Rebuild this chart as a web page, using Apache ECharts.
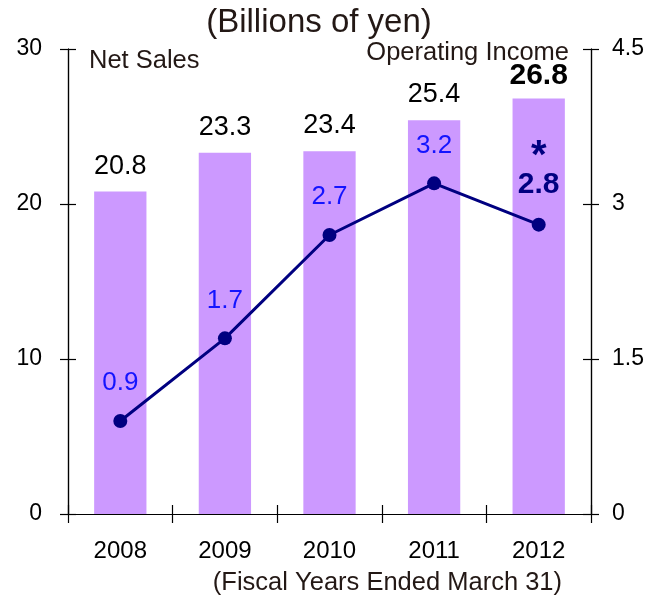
<!DOCTYPE html>
<html>
<head>
<meta charset="utf-8">
<script src="https://cdn.jsdelivr.net/npm/echarts@6/dist/echarts.min.js"></script>
<style>
  html, body { margin: 0; padding: 0; background: #fff; }
  #chart { width: 651px; height: 597px; }
</style>
</head>
<body>
<div id="chart"></div>
<script>
// Fiscal years (ended March 31)
const years = ['2008', '2009', '2010', '2011', '2012'];
// Net sales, billions of yen (left axis)
const netSales = [20.8, 23.3, 23.4, 25.4, 26.8];
// Operating income, billions of yen (right axis)
const operatingIncome = [0.9, 1.7, 2.7, 3.2, 2.8];
// Axis ticks
const salesTicks = [0, 10, 20, 30];
const incomeTicks = [0, 1.5, 3, 4.5];

const FONT = 'Liberation Sans, Arial, sans-serif';
const TEXT = '#231815';

const chart = echarts.init(document.getElementById('chart'), null, { renderer: 'canvas' });

const grid = { left: 68, right: 60, top: 49, bottom: 83 };
const lastIdx = years.length - 1;

// Ticks cross the axis line, so each axis is drawn twice: once with
// outward ticks and labels, once with inward ticks only.
function yAxisBase(pos, ticks, showLabel, inside) {
  return {
    type: 'value',
    position: pos,
    min: ticks[0],
    max: ticks[ticks.length - 1],
    interval: ticks[1] - ticks[0],
    splitLine: { show: false },
    axisLine: { show: true, lineStyle: { color: '#000', width: 1.2 } },
    axisTick: { show: true, inside: inside, length: 8, lineStyle: { color: '#000', width: 1.2 } },
    axisLabel: {
      show: showLabel,
      margin: pos === 'left' ? 26 : 21,
      color: '#000',
      fontSize: 23,
      fontFamily: FONT,
      formatter: v => String(v)
    }
  };
}

function xAxisBase(inside, showLabel) {
  return {
    type: 'category',
    data: years,
    position: 'bottom',
    boundaryGap: true,
    axisLine: { show: true, lineStyle: { color: '#000', width: 1.2 } },
    axisTick: { show: true, inside: inside, length: 9, lineStyle: { color: '#000', width: 1.2 } },
    axisLabel: { show: showLabel, margin: 25, color: '#000', fontSize: 24, fontFamily: FONT },
    splitLine: { show: false }
  };
}

const barData = netSales.map((v, i) => i === lastIdx
  ? { value: v, label: { fontWeight: 'bold', fontSize: 30, distance: 8 } }
  : v);

const lineData = operatingIncome.map((v, i) => i === lastIdx
  ? {
      value: v,
      label: {
        formatter: '{s|*}\n{b|' + v + '}',
        rich: {
          s: { fontSize: 40, fontWeight: 'bold', color: '#000080', fontFamily: FONT, lineHeight: 30, padding: [0, 0, -6, 0] },
          b: { fontSize: 30, fontWeight: 'bold', color: '#000080', fontFamily: FONT, lineHeight: 32 }
        },
        distance: 17
      }
    }
  : v);

chart.setOption({
  animation: false,
  backgroundColor: '#fff',
  title: [
    { text: '(Billions of yen)', left: 314, top: 1, textAlign: 'center',
      textStyle: { fontSize: 33, fontWeight: 'normal', color: TEXT, fontFamily: FONT } },
    { text: 'Net Sales', left: 84, top: 43,
      textStyle: { fontSize: 25.5, fontWeight: 'normal', color: TEXT, fontFamily: FONT } },
    { text: 'Operating Income', right: 77, top: 35,
      textStyle: { fontSize: 25.5, fontWeight: 'normal', color: TEXT, fontFamily: FONT } },
    { text: '(Fiscal Years Ended March 31)', right: 84, top: 565,
      textStyle: { fontSize: 25.5, fontWeight: 'normal', color: TEXT, fontFamily: FONT } }
  ],
  grid: grid,
  xAxis: [xAxisBase(false, true), xAxisBase(true, false)],
  yAxis: [
    yAxisBase('left', salesTicks, true, false),
    yAxisBase('right', incomeTicks, true, false),
    yAxisBase('left', salesTicks, false, true),
    yAxisBase('right', incomeTicks, false, true)
  ],
  series: [
    {
      name: 'Net Sales',
      type: 'bar',
      xAxisIndex: 0,
      yAxisIndex: 0,
      data: barData,
      barWidth: '50%',
      itemStyle: { color: '#cc99ff' },
      label: {
        show: true,
        position: 'top',
        distance: 12,
        color: '#000',
        fontSize: 27,
        fontFamily: FONT
      },
      z: 1
    },
    {
      name: 'Operating Income',
      type: 'line',
      xAxisIndex: 0,
      yAxisIndex: 1,
      data: lineData,
      symbol: 'circle',
      symbolSize: 14,
      lineStyle: { color: '#000080', width: 3 },
      itemStyle: { color: '#000080' },
      label: {
        show: true,
        position: 'top',
        distance: 18,
        color: '#1414ff',
        fontSize: 26,
        fontFamily: FONT
      },
      z: 3
    }
  ]
});
</script>
</body>
</html>
